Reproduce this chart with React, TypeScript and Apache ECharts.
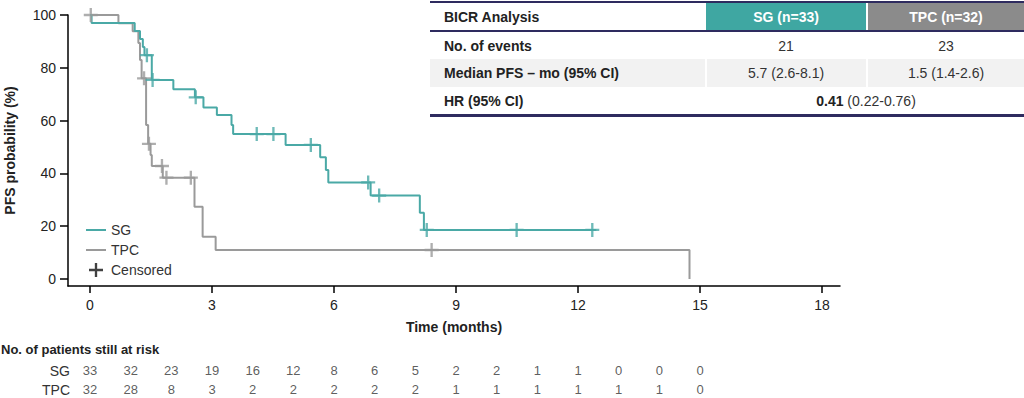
import React, { useEffect, useRef } from "react";
import * as echarts from "echarts";

const FONT = "'Liberation Sans', Arial, Helvetica, sans-serif";
const TEAL = "#4aa9a6";
const GRAY = "#9a9a9a";
const NAVY = "#2e2b5f";
const TEXT = "#222222";

// Kaplan-Meier steps [months, PFS %]
const sgSteps: [number, number][] = [
  [0, 100], [0.04, 97.0], [1.1, 93.9], [1.23, 90.9], [1.3, 87.9], [1.34, 84.8],
  [1.52, 75.4], [2.05, 71.9], [2.58, 68.8], [2.79, 65.0], [3.12, 62.1],
  [3.48, 58.3], [3.52, 54.9], [4.81, 50.8], [5.66, 46.1], [5.8, 41.3],
  [5.86, 36.6], [6.9, 31.6], [8.11, 25.1], [8.21, 18.6], [12.45, 18.6],
];
const sgCensored: [number, number][] = [
  [1.4, 84.8], [1.54, 75.4], [2.6, 68.8], [4.1, 54.9], [4.51, 54.9],
  [5.43, 50.8], [6.84, 36.6], [7.11, 31.6], [8.28, 18.6], [10.49, 18.6], [12.35, 18.6],
];
const tpcSteps: [number, number][] = [
  [0, 100], [0.7, 96.9], [1.05, 93.8], [1.19, 89.4], [1.23, 83.0], [1.27, 76.0],
  [1.38, 58.3], [1.43, 51.2], [1.49, 47.0], [1.52, 42.8], [1.79, 38.4],
  [2.57, 27.4], [2.77, 16.0], [3.09, 11.0], [14.74, 0],
];
const tpcCensored: [number, number][] = [
  [0.02, 100], [1.33, 76.0], [1.45, 51.2], [1.77, 42.8], [1.88, 38.4],
  [2.48, 38.4], [8.4, 11.0],
];

const xTicks = [0, 3, 6, 9, 12, 15, 18];
const yTicks = [0, 20, 40, 60, 80, 100];

const riskTimes = [0, 1, 2, 3, 4, 5, 6, 7, 8, 9, 10, 11, 12, 13, 14, 15];
const riskGroups = ["SG", "TPC"];
const sgAtRisk = [33, 32, 23, 19, 16, 12, 8, 6, 5, 2, 2, 1, 1, 0, 0, 0];
const tpcAtRisk = [32, 28, 8, 3, 2, 2, 2, 2, 2, 1, 1, 1, 1, 1, 1, 0];

const tableHeader = ["BICR Analysis", "SG (n=33)", "TPC (n=32)"];
const eventsRow = ["No. of events", "21", "23"];
const medianRow = ["Median PFS – mo (95% CI)", "5.7 (2.6-8.1)", "1.5 (1.4-2.6)"];
const hrRow = ["HR (95% CI)", "0.41", "(0.22-0.76)"];

const PLUS = "path://M6,0h2.4v6h6v2.4h-6v6h-2.4v-6h-6v-2.4h6z";
const LINE_ICON = "path://M0,0h20v2h-20z";

const X_MIN = -0.54;
const X_MAX = 18.44;
const Y_MIN = -2.65;
const Y_MAX = 100;

function txt(x: number, y: number, text: string, opts: any = {}) {
  return {
    type: "text",
    x,
    y,
    z: 10,
    style: {
      text,
      fontFamily: FONT,
      fontSize: 14,
      fill: TEXT,
      align: "left",
      verticalAlign: "middle",
      ...opts,
    },
  };
}

function buildOption(): any {
  const graphic: any[] = [
    // table
    { type: "rect", shape: { x: 430, y: 1, width: 594, height: 2 }, style: { fill: NAVY } },
    { type: "rect", shape: { x: 706, y: 3, width: 160, height: 27 }, style: { fill: "#3fa7a2" } },
    { type: "rect", shape: { x: 868, y: 3, width: 156, height: 27 }, style: { fill: "#8b8b8b" } },
    { type: "rect", shape: { x: 430, y: 30, width: 594, height: 2 }, style: { fill: NAVY } },
    { type: "rect", shape: { x: 430, y: 59, width: 594, height: 28 }, style: { fill: "#f2f2f2" } },
    { type: "rect", shape: { x: 705, y: 59, width: 2, height: 28 }, style: { fill: "#ffffff" } },
    { type: "rect", shape: { x: 866, y: 59, width: 2, height: 28 }, style: { fill: "#ffffff" } },
    { type: "rect", shape: { x: 430, y: 114, width: 594, height: 3 }, style: { fill: NAVY } },
    txt(444, 17, tableHeader[0], { fontWeight: "bold" }),
    txt(786, 17, tableHeader[1], { fontWeight: "bold", fill: "#ffffff", align: "center" }),
    txt(946, 17, tableHeader[2], { fontWeight: "bold", fill: "#ffffff", align: "center" }),
    txt(444, 46, eventsRow[0], { fontWeight: "bold" }),
    txt(786, 46, eventsRow[1], { align: "center", fill: "#333" }),
    txt(946, 46, eventsRow[2], { align: "center", fill: "#333" }),
    txt(444, 73, medianRow[0], { fontWeight: "bold" }),
    txt(786, 73, medianRow[1], { align: "center", fill: "#333" }),
    txt(946, 73, medianRow[2], { align: "center", fill: "#333" }),
    txt(444, 101, hrRow[0], { fontWeight: "bold" }),
    txt(866, 101, `{b|${hrRow[1]}} ${hrRow[2]}`, {
      align: "center",
      fill: "#333",
      rich: { b: { fontFamily: FONT, fontSize: 14, fontWeight: "bold", fill: TEXT } },
    }),
    // risk table title
    txt(1, 349, "No. of patients still at risk", { fontWeight: "bold", fontSize: 13 }),
  ];

  const riskData = (vals: number[], row: number) =>
    riskTimes.map((t, i) => [t, row, vals[i]]);

  return {
    animation: false,
    backgroundColor: "#ffffff",
    textStyle: { fontFamily: FONT },
    grid: [
      { left: 68, right: 184, top: 15, bottom: 112, containLabel: false, outerBoundsMode: "none" },
      { left: 68, right: 184, top: 361, height: 38, containLabel: false, outerBoundsMode: "none" },
    ],
    legend: {
      data: [
        { name: "SG", icon: LINE_ICON },
        { name: "TPC", icon: LINE_ICON },
        { name: "Censored" },
      ],
      orient: "vertical",
      left: 81,
      top: 218,
      itemWidth: 20,
      itemHeight: 14,
      itemGap: 6,
      textStyle: { fontFamily: FONT, fontSize: 14, color: "#333" },
      selectedMode: false,
    },
    xAxis: [
      {
        gridIndex: 0,
        type: "value",
        min: X_MIN,
        max: X_MAX,
        name: "Time (months)",
        nameLocation: "middle",
        nameGap: 34,
        nameTextStyle: { fontFamily: FONT, fontSize: 14, fontWeight: "bold", color: TEXT },
        axisLine: { show: true, onZero: false, lineStyle: { color: "#000", width: 1.5 } },
        axisTick: { show: true, length: 7, customValues: xTicks, lineStyle: { color: "#000", width: 1.5 } },
        axisLabel: { customValues: xTicks, margin: 12, fontFamily: FONT, fontSize: 14, color: TEXT },
        splitLine: { show: false },
      },
      {
        gridIndex: 1,
        type: "value",
        min: X_MIN,
        max: X_MAX,
        show: false,
      },
    ],
    yAxis: [
      {
        gridIndex: 0,
        type: "value",
        min: Y_MIN,
        max: Y_MAX,
        name: "PFS probability (%)",
        nameLocation: "middle",
        nameGap: 51,
        nameTextStyle: { fontFamily: FONT, fontSize: 14, fontWeight: "bold", color: TEXT },
        axisLine: { show: true, onZero: false, lineStyle: { color: "#000", width: 1.5 } },
        axisTick: { show: true, length: 8, customValues: yTicks, lineStyle: { color: "#000", width: 1.5 } },
        axisLabel: { customValues: yTicks, margin: 12, fontFamily: FONT, fontSize: 14, color: TEXT },
        splitLine: { show: false },
      },
      {
        gridIndex: 1,
        type: "category",
        data: riskGroups,
        inverse: true,
        axisLine: { show: false },
        axisTick: { show: false },
        axisLabel: { margin: -2, fontFamily: FONT, fontSize: 14, color: "#333" },
      },
    ],
    graphic,
    series: [
      {
        name: "TPC",
        type: "line",
        step: "end",
        data: tpcSteps,
        symbol: "none",
        color: GRAY,
        lineStyle: { color: GRAY, width: 2 },
        xAxisIndex: 0,
        yAxisIndex: 0,
        z: 2,
      },
      {
        name: "SG",
        type: "line",
        step: "end",
        data: sgSteps,
        symbol: "none",
        color: TEAL,
        lineStyle: { color: TEAL, width: 2 },
        xAxisIndex: 0,
        yAxisIndex: 0,
        z: 3,
      },
      {
        name: "TPC censored",
        type: "scatter",
        data: tpcCensored,
        symbol: PLUS,
        symbolSize: 14,
        itemStyle: { color: GRAY },
        xAxisIndex: 0,
        yAxisIndex: 0,
        z: 4,
      },
      {
        name: "SG censored",
        type: "scatter",
        data: sgCensored,
        symbol: PLUS,
        symbolSize: 14,
        itemStyle: { color: TEAL },
        xAxisIndex: 0,
        yAxisIndex: 0,
        z: 5,
      },
      {
        name: "Censored",
        type: "scatter",
        data: [],
        symbol: PLUS,
        symbolSize: 12,
        itemStyle: { color: "#111" },
        xAxisIndex: 0,
        yAxisIndex: 0,
      },
      {
        name: "risk",
        type: "scatter",
        xAxisIndex: 1,
        yAxisIndex: 1,
        data: [...riskData(sgAtRisk, 0), ...riskData(tpcAtRisk, 1)],
        symbolSize: 1,
        itemStyle: { color: "rgba(0,0,0,0)" },
        label: {
          show: true,
          position: "inside",
          formatter: (p: any) => String(p.value[2]),
          fontFamily: FONT,
          fontSize: 13,
          color: "#333",
        },
        silent: true,
      },
    ],
  };
}

export default function App() {
  const ref = useRef<HTMLDivElement>(null);
  useEffect(() => {
    const chart = echarts.init(ref.current!, null, { renderer: "svg" });
    chart.setOption(buildOption());
    return () => chart.dispose();
  }, []);
  return (
    <div
      ref={ref}
      style={{ position: "fixed", left: 0, top: 0, width: 1024, height: 398, background: "#fff" }}
    />
  );
}
